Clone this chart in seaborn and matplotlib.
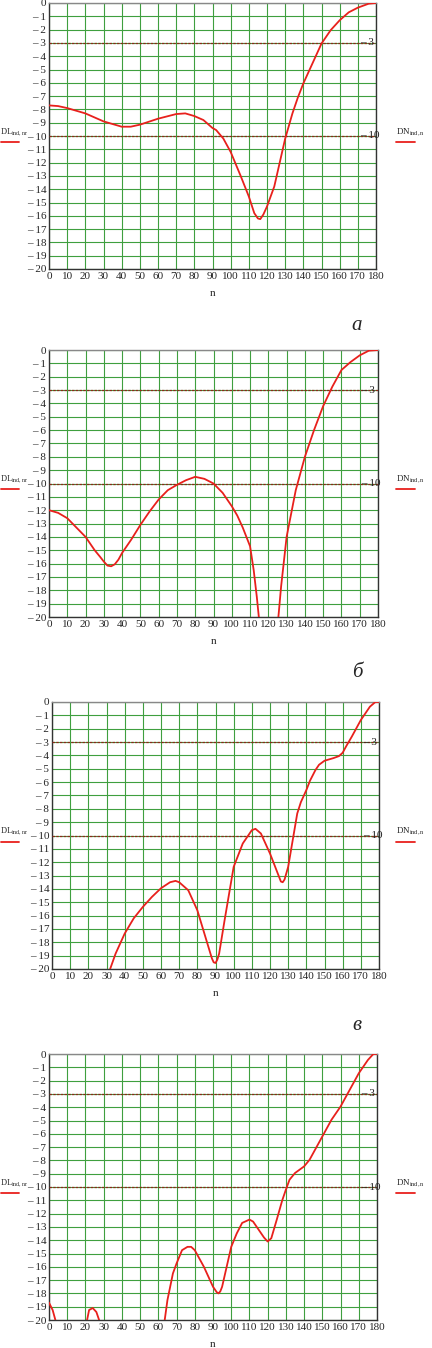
import numpy as np
import pandas as pd
import matplotlib
matplotlib.use("Agg")
import matplotlib.pyplot as plt
import seaborn as sns

# ---- data (angle n in degrees, level in dB) ----
# panel a
a_n = [0, 5, 10, 20, 30, 40, 45, 50, 60, 70, 75, 80, 85, 90, 92, 96, 100, 105.5, 110,
       113, 115, 116.3, 118, 120, 124, 127, 130, 134, 137, 140, 145, 150, 155, 160, 165,
       170, 176, 180]
a_db = [-7.7, -7.75, -7.9, -8.3, -8.9, -9.3, -9.3, -9.15, -8.7, -8.35, -8.3, -8.5, -8.8,
        -9.4, -9.55, -10.2, -11.2, -13.0, -14.55, -15.8, -16.2, -16.25, -15.9, -15.3,
        -13.8, -12.0, -10.2, -8.3, -7.1, -6.05, -4.55, -3.05, -2.05, -1.3, -0.7, -0.35,
        -0.05, 0.0]

# panel б (two pieces, dips below -20 between)
b1_n = [0, 5, 10, 15, 20, 25, 28, 30, 32, 34, 36, 38, 40, 45, 50, 55, 60, 65, 70, 75,
        80, 85, 90, 95, 100, 103, 106, 108, 110, 112, 113.7, 114.8]
b1_db = [-12.0, -12.2, -12.6, -13.3, -14.0, -15.0, -15.5, -15.85, -16.15, -16.2, -16.05,
         -15.7, -15.2, -14.2, -13.1, -12.1, -11.2, -10.5, -10.1, -9.75, -9.5, -9.65,
         -10.0, -10.7, -11.7, -12.4, -13.3, -14.0, -14.7, -16.5, -18.5, -20.0]
b2_n = [125.5, 127, 130, 135, 140, 145, 150, 155, 160, 165, 170, 175, 180]
b2_db = [-20.0, -17.7, -14.0, -10.5, -8.0, -6.0, -4.2, -2.75, -1.5, -0.9, -0.4, -0.05, 0.0]

# panel в
c_n = [32, 35, 40, 45, 50, 55, 60, 65, 68, 70, 75, 80, 85, 88, 89, 90, 91, 92, 95, 100,
       105, 110, 112, 115, 120, 125, 126, 127, 128, 130, 135, 137, 140, 142, 145, 147,
       150, 155, 158, 160, 162, 165, 170, 175, 178, 180]
c_db = [-20.0, -18.85, -17.35, -16.2, -15.35, -14.6, -13.95, -13.5, -13.4, -13.5, -14.1,
        -15.6, -17.85, -19.2, -19.5, -19.55, -19.3, -18.85, -16.35, -12.35, -10.6, -9.6,
        -9.5, -9.85, -11.35, -13.1, -13.45, -13.5, -13.3, -12.35, -8.35, -7.5, -6.6,
        -5.9, -5.1, -4.7, -4.4, -4.2, -4.05, -3.8, -3.3, -2.6, -1.35, -0.35, 0.0, 0.0]

# panel г (three pieces)
d1_n = [0, 2, 3.5]
d1_db = [-18.7, -19.25, -20.0]
d2_n = [20.9, 22, 24, 26, 27.5]
d2_db = [-20.0, -19.25, -19.1, -19.4, -20.0]
d3_n = [63.5, 65, 68, 70, 73, 76, 78, 80, 85, 90, 92, 93, 94, 95, 100, 103, 106, 110,
        112, 115, 118, 120, 122, 125, 128, 130, 132, 135, 140, 143, 145, 150, 155, 160,
        165, 170, 175, 178, 180]
d3_db = [-20.0, -18.5, -16.5, -15.75, -14.75, -14.5, -14.5, -14.75, -16.0, -17.5, -17.9,
         -18.0, -17.85, -17.5, -14.5, -13.5, -12.7, -12.45, -12.6, -13.2, -13.8, -14.1,
         -13.85, -12.45, -11.0, -10.2, -9.45, -8.95, -8.45, -7.95, -7.45, -6.2, -4.95,
         -3.95, -2.7, -1.45, -0.45, 0.0, 0.0]

panels = [
    ("а", [(a_n, a_db)]),
    ("б", [(b1_n, b1_db), (b2_n, b2_db)]),
    ("в", [(c_n, c_db)]),
    ("", [(d1_n, d1_db), (d2_n, d2_db), (d3_n, d3_db)]),
]

# axes boxes in pixels: left, right, top, bottom
boxes = [(49, 376, 3, 269), (49, 378, 350, 617), (52, 379, 702, 969), (49, 377, 1054, 1320)]

sns.set_style("white")
plt.rcParams["font.family"] = ["Liberation Serif", "DejaVu Serif"]
plt.rcParams["mathtext.fontset"] = "custom"
plt.rcParams["mathtext.rm"] = "Liberation Serif"

W, H = 432, 1348
fig = plt.figure(figsize=(W / 100, H / 100), dpi=100)

grid_col = "#3f9f3f"
curve_col = "#e8201c"
ref_col = "#8a2a1a"

for (letter, pieces), (l, r, t, b) in zip(panels, boxes):
    ax = fig.add_axes([l / W, 1 - b / H, (r - l) / W, (b - t) / H])
    for n_vals, db_vals in pieces:
        df = pd.DataFrame({"n": n_vals, "dB": db_vals})
        sns.lineplot(data=df, x="n", y="dB", ax=ax, color=curve_col, linewidth=1.3,
                     sort=False, estimator=None, zorder=4)
    ax.set_xlim(0, 180)
    ax.set_ylim(-20, 0)
    ax.set_xticks(np.arange(0, 181, 10))
    ax.set_yticks(np.arange(-20, 1, 1))
    ax.set_xticklabels([str(v) for v in range(0, 181, 10)], fontsize=8)
    ax.set_yticklabels(["\u2013 %d" % -v if v < 0 else "0" for v in range(-20, 1)], fontsize=8)
    ax.tick_params(length=0, pad=2)
    ax.grid(True, color=grid_col, linewidth=0.8)
    ax.set_axisbelow(True)
    for s in ax.spines.values():
        s.set_color("#333333")
        s.set_linewidth(1.0)
    ax.spines["top"].set_color("#888888")
    ax.set_xlabel("n", fontsize=8, labelpad=6)
    ax.set_ylabel("")

    # reference levels -3 and -10
    for lvl in (-3, -10):
        ax.axhline(lvl, color=ref_col, linewidth=0.9, linestyle=(0, (2, 1)), zorder=3)
        ax.text(171, lvl, "\u2013 %d" % -lvl, fontsize=8, va="center", ha="left",
                color="#222222", zorder=5)

    # trace labels left and right
    ymid = 1 - (t + b) / 2 / H
    fig.text(0, ymid + 4 / H, "DL$_{\\mathrm{ind,nr}}$", fontsize=6, ha="left", va="center")
    fig.lines.append(plt.Line2D([1 / W, 19 / W], [ymid - 6 / H, ymid - 6 / H],
                                transform=fig.transFigure, color=curve_col, linewidth=1.3))
    fig.text(396 / W, ymid + 4 / H, "DN$_{\\mathrm{ind,n}}$", fontsize=6.5, ha="left", va="center")
    fig.lines.append(plt.Line2D([396 / W, 415 / W], [ymid - 6 / H, ymid - 6 / H],
                                transform=fig.transFigure, color=curve_col, linewidth=1.3))

    if letter:
        fig.text(357 / W, 1 - (b + 56) / H, letter, fontsize=15, style="italic",
                 ha="center", va="center")

fig.savefig("out.png", dpi=100)
